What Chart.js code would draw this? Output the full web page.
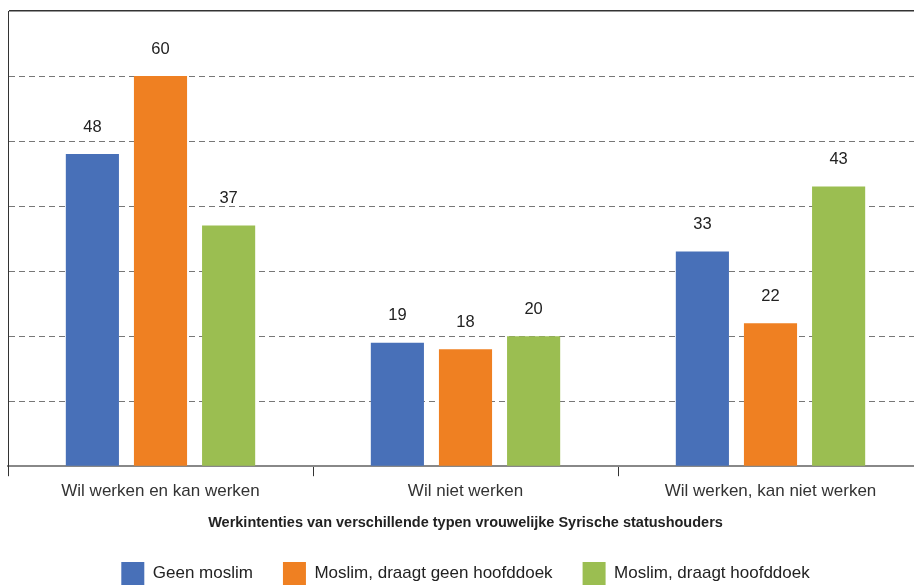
<!DOCTYPE html>
<html>
<head>
<meta charset="utf-8">
<script src="https://cdn.jsdelivr.net/npm/chart.js@4/dist/chart.umd.min.js"></script>
<style>
  html, body { margin: 0; padding: 0; background: #fff; overflow: hidden; }
  #wrap { width: 935px; height: 595px; }
</style>
</head>
<body>
<div id="wrap"><canvas id="chart"></canvas></div>
<script>
const categories = ["Wil werken en kan werken", "Wil niet werken", "Wil werken, kan niet werken"];
const geenMoslim = [48, 19, 33];
const moslimGeenHoofddoek = [60, 18, 22];
const moslimHoofddoek = [37, 20, 43];
const seriesNames = ["Geen moslim", "Moslim, draagt geen hoofddoek", "Moslim, draagt hoofddoek"];
const axisTitle = "Werkintenties van verschillende typen vrouwelijke Syrische statushouders";

const FONT = "'Liberation Sans', Arial, sans-serif";

// value labels above each bar
const valueLabels = {
  id: "valueLabels",
  afterDatasetsDraw(chart) {
    const ctx = chart.ctx;
    ctx.save();
    ctx.font = "16.5px " + FONT;
    ctx.fillStyle = "#222";
    ctx.textAlign = "center";
    ctx.textBaseline = "middle";
    chart.data.datasets.forEach((ds, i) => {
      chart.getDatasetMeta(i).data.forEach((bar, j) => {
        ctx.fillText(ds.data[j], bar.x, bar.y - 27);
      });
    });
    ctx.restore();
  }
};

new Chart(document.getElementById("chart"), {
  type: "bar",
  data: {
    labels: categories,
    datasets: [
      { label: seriesNames[0], data: geenMoslim, backgroundColor: "#4870B8" },
      { label: seriesNames[1], data: moslimGeenHoofddoek, backgroundColor: "#EF8022" },
      { label: seriesNames[2], data: moslimHoofddoek, backgroundColor: "#9BBE51" },
    ],
  },
  options: {
    responsive: true,
    maintainAspectRatio: false,
    animation: false,
    categoryPercentage: 0.67,
    barPercentage: 0.78,
    layout: { padding: { left: 8, right: 12, top: 11, bottom: 0 } },
    plugins: {
      legend: {
        position: "bottom",
        labels: {
          boxWidth: 23,
          boxHeight: 23,
          padding: 30,
          color: "#222",
          font: { family: FONT, size: 17 },
        },
      },
      tooltip: { enabled: false },
    },
    scales: {
      x: {
        grid: {
          drawOnChartArea: false,
          drawTicks: true,
          tickLength: 10,
          color: "#333",
        },
        border: { display: true, color: "#888", width: 2 },
        ticks: { color: "#333", padding: 5, font: { family: FONT, size: 17 } },
        title: {
          display: true,
          text: axisTitle,
          color: "#222",
          padding: { top: 8, bottom: 0 },
          font: { family: FONT, size: 14.5, weight: "bold" },
        },
      },
      y: {
        min: 0,
        max: 70,
        ticks: { display: false, stepSize: 10 },
        grid: {
          drawTicks: false,
          color: (c) => c.tick.value === 0 ? "rgba(0,0,0,0)" : (c.tick.value === 70 ? "#333" : "#777"),
          lineWidth: (c) => c.tick.value === 70 ? 1.5 : 1,
        },
        border: {
          display: true,
          color: "#333",
          dash: (c) => (c.tick && c.tick.value === 70) ? [] : [6, 4],
        },
      },
    },
  },
  plugins: [valueLabels],
});
</script>
</body>
</html>
